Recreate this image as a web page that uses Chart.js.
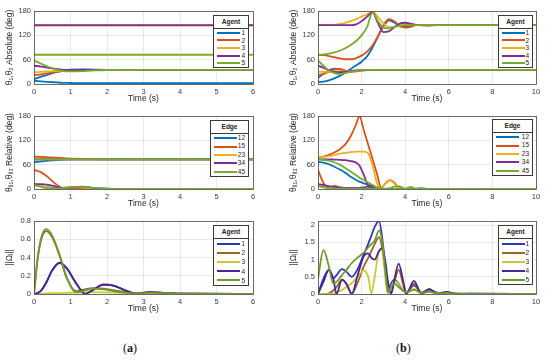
<!DOCTYPE html>
<html><head><meta charset="utf-8">
<script src="https://cdn.jsdelivr.net/npm/chart.js@4"></script>
<style>
html,body{margin:0;padding:0;background:#fff;width:550px;height:362px;overflow:hidden;position:relative;font-family:"Liberation Sans",Arial,sans-serif;}
canvas{position:absolute;}
.lg{position:absolute;background:#fff;border:1px solid #3a3a3a;box-sizing:border-box;font-size:6.5px;color:#222;}
.lg .tt{font-weight:bold;text-align:center;border-bottom:1px solid #3a3a3a;height:12px;line-height:12px;}
.lg .it{position:relative;}
.lg .ln{position:absolute;left:3px;width:23px;top:50%;border-top:2px solid;margin-top:-1px;}
.lg .lb{position:absolute;right:3px;top:0;}
.cap{position:absolute;font-family:"Liberation Serif","DejaVu Serif",serif;font-size:12px;color:#111;}
</style></head><body>
<canvas id="c1"></canvas><canvas id="c2"></canvas><canvas id="c3"></canvas>
<canvas id="c4"></canvas><canvas id="c5"></canvas><canvas id="c6"></canvas>
<div class="cap" style="left:123px;top:341px;">(<b>a</b>)</div>
<div class="cap" style="left:396px;top:341px;">(<b>b</b>)</div>
<script>
// ---------- DATA ----------
const agentLabels = ['1','2','3','4','5'];
const edgeLabels = ['12','15','23','34','45'];
const xTicksA = [0,1,2,3,4,5,6];
const xTicksB = [0,2,4,6,8,10];
const yTicksDeg = [0,60,120,180];
const yTicksOmA = [0,0.2,0.4,0.6,0.8];
const yTicksOmB = [0,0.5,1,1.5,2];

// (a) absolute
const absA_t = [0,0.2,0.4,0.6,0.8,1.0,1.3,1.6,2,3,6];
const absA_1_th1 = [12,18,24,29,33,35.5,36,35.5,35,35,35];
const absA_1_th2 = [8,6.5,5,4,3,2.5,2,2,2,2,2];
const absA_2_th1 = [22,24,27,30,32.5,34,35,35,35,35,35];
const absA_2_th2 = [145,145,145,145,145,145,145,145,145,145,145];
const absA_3_th1 = [29,30,31,32,33,34,34.5,35,35,35,35];
const absA_3_th2 = [72,72,72,72,72,72,72,72,72,72,72];
const absA_4_th1 = [45,43,40,37,35,34.5,34.5,35,35,35,35];
const absA_4_th2 = [144.5,144.5,144.5,144.5,144.5,144.5,144.5,144.5,144.5,144.5,144.5];
const absA_5_th1 = [58,50,42,36,32,31,31.5,33,34.5,35,35];
const absA_5_th2 = [72.5,72.5,72.5,72.5,72.5,72.5,72.5,72.5,72.5,72.5,72.5];

// (b) absolute
const absB_t = [0,0.25,0.5,0.75,1,1.25,1.5,1.75,2,2.25,2.5,2.75,3,3.25,3.5,3.75,4,4.25,4.5,5,5.5,6,7,10];
const absB_1_th1 = [15,25,34,38,36,33,32,33,34,35,35,35,35,35,35,35,35,35,35,35,35,35,35,35];
const absB_1_th2 = [5,6,9,14,20,28,37,46,55,68,90,117,142,157,152,142,141,144,146,145,145,145,145,145];
const absB_2_th1 = [22,25,30,36,37,33,30,31,33,34,35,35,35,35,35,35,35,35,35,35,35,35,35,35];
const absB_2_th2 = [72,71,69,66,63,61,61,64,70,80,95,118,145,160,155,143,139,141,145,146,145,145,145,145];
const absB_3_th1 = [30,30,30,31,31,31,32,33,34,35,35,35,35,35,35,35,35,35,35,35,35,35,35,35];
const absB_3_th2 = [145,145,145,146,148,151,155,160,166,172,178,165,150,140,141,144,146,146,145,145,145,145,145,145];
const absB_4_th1 = [45,40,34,30,29,30,32,33,34,35,35,35,35,35,35,35,35,35,35,35,35,35,35,35];
const absB_4_th2 = [145,145,145,145,145,145,145,147,155,166,177,150,128,130,140,149,151,149,146,144,145,145,145,145];
const absB_5_th1 = [58,45,33,27,25,27,30,32,34,35,35,35,35,35,35,35,35,35,35,35,35,35,35,35];
const absB_5_th2 = [72,73,75,78,82,88,96,106,120,140,176,155,139,137,141,144,145,145,145,145,145,145,145,145];

// (a) relative
const relA_t = [0,0.2,0.4,0.6,0.8,1.0,1.3,1.6,2,3,6];
const relA_12_hi = [66,68,70,71.5,72.5,73,73,73,73,73,73];
const relA_12_lo = [10,7,4,2,1,1,1,0.5,0,0,0];
const relA_15_hi = [80,79,78,77,76,75,74,73.5,73,73,73];
const relA_15_lo = [47,41,28,12,2,0.5,0.5,0,0,0,0];
const relA_23_hi = [73,73,73,73,73,73,73,73,73,73,73];
const relA_23_lo = [12,8,3,1,3,5,4,2,0.5,0,0];
const relA_34_hi = [73,73,73,73,73,73,73,73,73,73,73];
const relA_34_lo = [12,12,10,6,2,4,6,3,1,0,0];
const relA_45_hi = [73,73,73,73,73,73,73,73,73,73,73];
const relA_45_lo = [10,5,1,1,2,4,5,3,1,0,0];

// (b) relative
const relB_t = [0,0.25,0.5,0.75,1,1.25,1.5,1.75,1.9,2.1,2.3,2.5,2.7,2.9,3.1,3.3,3.5,3.7,4,4.25,4.5,4.75,5,6,10];
const relB_12_hi = [67,65,61,55,48,40,30,22,18,14,11,6,2,0,0,0,0,0,0,0,0,0,0,0,0];
const relB_12_lo = [10,8,5,2,1,1,0,0,0,0,0,0,0,0,0,0,0,0,0,0,0,0,0,0,0];
const relB_15_hi = [78,80,84,90,98,110,130,160,180,145,110,74,38,3,14,22,16,2,0,0,0,0,0,0,0];
const relB_15_lo = [47,15,1,8,3,1,0,0,0,0,0,0,0,0,0,0,0,0,0,0,0,0,0,0,0];
const relB_23_hi = [78,79,81,84,87,89,91,92,92,92,88,60,15,2,14,21,14,1,0,0,0,0,0,0,0];
const relB_23_lo = [10,5,3,6,4,2,1,1,1,1,1,1,1,1,0,0,0,0,0,0,0,0,0,0,0];
const relB_34_hi = [73,73,73,72.5,72,71,69,65,58,35,8,1,0,0,0,0,0,0,0,0,0,0,0,0,0];
const relB_34_lo = [12,10,7,5,4,3,3,3,3,4,6,5,3,1,0,0,0,0,0,0,0,0,0,0,0];
const relB_45_hi = [73,72,70,66,60,52,43,34,28,22,16,10,4,1,0,0,0,0,0,0,0,0,0,0,0];
const relB_45_lo = [8,4,2,1,1,1,1,1,1,1,1,1,1,1,1,2,6,7,1,5,1,3,0.5,0,0];

// (a) ||Omega||
const omA_t = [0,0.1,0.2,0.33,0.5,0.7,0.9,1.15,1.4,1.6,1.9,2.2,2.5,2.8,3.2,3.6,4,6];
const omA_1 = [0,0.01,0.04,0.12,0.26,0.34,0.28,0.12,0.01,0.04,0.1,0.09,0.04,0.005,0.02,0.01,0.003,0];
const omA_2 = [0,0.38,0.6,0.69,0.62,0.42,0.17,0.03,0.05,0.065,0.06,0.04,0.02,0.01,0.02,0.01,0.003,0];
const omA_3 = [0,0.002,0.004,0.006,0.008,0.01,0.012,0.015,0.018,0.02,0.018,0.015,0.01,0.006,0.004,0.002,0.001,0];
const omA_4 = [0,0.01,0.04,0.12,0.26,0.343,0.28,0.12,0,0.04,0.105,0.09,0.04,0.005,0.02,0.01,0.003,0];
const omA_5 = [0,0.4,0.62,0.71,0.64,0.43,0.18,0.02,0.04,0.06,0.05,0.03,0.015,0.005,0.015,0.01,0.003,0];

// (b) ||Omega||
const omB_t = [0,0.25,0.5,0.7,0.85,1.1,1.3,1.55,1.8,2.1,2.3,2.45,2.6,2.8,2.95,3.1,3.2,3.35,3.5,3.7,3.9,4.05,4.4,4.75,5.1,5.5,5.9,6.3,7,10];
const omB_1 = [0,0.45,0.7,0.45,0.55,0.72,0.65,0.5,0.7,1.15,1.45,1.7,1.95,2.12,1.6,0.7,0.05,0.3,0.42,0.3,0.1,0.05,0.25,0.05,0.12,0.03,0.05,0.02,0.01,0];
const omB_2 = [0,0,0.02,0.1,0.2,0.42,0.3,0.02,0.3,0.8,1.05,1.25,1.45,1.65,1.3,0.6,0.1,0.05,0.35,0.7,0.3,0.02,0.3,0.02,0.1,0.005,0.04,0.005,0.005,0];
const omB_3 = [0,0,0,0.01,0.05,0.12,0.2,0.32,0.5,0.68,0.5,0.02,0.5,1.25,1.3,0.4,0.02,0.2,0.38,0.3,0.15,0.05,0.15,0.05,0.06,0.02,0.02,0.01,0,0];
const omB_4 = [0,0.35,0.7,0.45,0,0.42,0.3,0,0.5,1.1,1.18,1.05,1,1.25,1.33,0.9,0.4,0,0.4,0.88,0.4,0,0.38,0,0.15,0,0.06,0,0.01,0];
const omB_5 = [0.45,1.27,0.8,0.3,0.35,0.55,0.7,0.9,1.05,1.2,1.35,1.45,1.55,1.85,1.5,0.6,0.05,0.2,0.3,0.2,0.1,0.05,0.12,0.03,0.06,0.02,0.03,0.01,0.005,0];

// ---------- STYLE ----------
const colA = ['#0072BD','#D95319','#EDB120','#7E2F8E','#77AC30'];
const colB = ['#3036B4','#96692A','#C9C93C','#4B2591','#6E9B2E'];

function pts(t, v){ return t.map((x,i)=>({x:x, y:v[i]})); }
function ds(t, v, c, k){
  return {data:pts(t,v), borderColor:c, borderWidth:1.8, pointRadius:0, fill:false,
          cubicInterpolationMode:'monotone', order:-k};
}
const boxPlugin = {id:'box', afterDraw(ch){
  const a = ch.chartArea, g = ch.ctx;
  g.save(); g.strokeStyle='#4d4d4d'; g.lineWidth=0.8;
  g.strokeRect(Math.round(a.left)+0.5, Math.round(a.top)+0.5, Math.round(a.right-a.left), Math.round(a.bottom-a.top));
  g.restore();
}};
const fmtNum = v => String(+Number(v).toFixed(2));

function panel(id, left, top, w, h, L, R, xMax, xTicks, yMax, yTicks, yTitle, datasets){
  const cv = document.getElementById(id);
  cv.style.left = left+'px'; cv.style.top = top+'px';
  cv.width = w; cv.height = h; cv.style.width = w+'px'; cv.style.height = h+'px';
  const tickFont = {family:'"Liberation Sans", Arial, sans-serif', size:7.5};
  new Chart(cv, {
    type:'line',
    data:{datasets:datasets},
    plugins:[boxPlugin],
    options:{
      responsive:false, animation:false, events:[],
      layout:{padding:{left:0, top:11, right: w-(R-left), bottom:0}},
      plugins:{legend:{display:false}, tooltip:{enabled:false}},
      scales:{
        x:{type:'linear', min:0, max:xMax,
           afterFit(s){ s.height = 20; },
           afterBuildTicks(s){ s.ticks = xTicks.map(v=>({value:v})); },
           grid:{color:'rgba(38,38,38,0.13)', drawTicks:false, lineWidth:0.8},
           border:{display:false},
           ticks:{font:tickFont, color:'#3a3a3a', padding:3, maxRotation:0, callback:fmtNum},
           title:{display:true, text:'Time (s)', font:{family:'"Liberation Sans", Arial, sans-serif', size:8.5}, color:'#262626', padding:{top:0,bottom:0}}},
        y:{type:'linear', min:0, max:yMax,
           afterFit(s){ s.width = L-left; },
           afterBuildTicks(s){ s.ticks = yTicks.map(v=>({value:v})); },
           grid:{color:'rgba(38,38,38,0.13)', drawTicks:false, lineWidth:0.8},
           border:{display:false},
           ticks:{font:tickFont, color:'#3a3a3a', padding:3, callback:fmtNum},
           title:{display:true, text:yTitle, font:{family:'"Liberation Sans", "DejaVu Sans", Arial, sans-serif', size:8.5}, color:'#262626', padding:{top:5,bottom:0}}}
      }
    }
  });
}

function legend(left, top, w, h, title, labels, cols){
  const d = document.createElement('div');
  d.className='lg';
  d.style.left=left+'px'; d.style.top=top+'px'; d.style.width=w+'px'; d.style.height=h+'px';
  const ih = (h-2-13)/labels.length;
  let s = '<div class="tt">'+title+'</div>';
  labels.forEach((lb,i)=>{
    s += '<div class="it" style="height:'+ih+'px;line-height:'+ih+'px;"><div class="ln" style="border-color:'+cols[i]+'"></div><div class="lb">'+lb+'</div></div>';
  });
  d.innerHTML = s;
  document.body.appendChild(d);
}

// ---------- BUILD ----------
function pairSets(t, arrs, cols){
  const out = [];
  arrs.forEach((pair,i)=>{ out.push(ds(t,pair[0],cols[i],2*i)); out.push(ds(t,pair[1],cols[i],2*i+1)); });
  return out;
}
const absA_sets = pairSets(absA_t, [[absA_1_th1,absA_1_th2],[absA_2_th1,absA_2_th2],[absA_3_th1,absA_3_th2],[absA_4_th1,absA_4_th2],[absA_5_th1,absA_5_th2]], colA);
const absB_sets = pairSets(absB_t, [[absB_1_th1,absB_1_th2],[absB_2_th1,absB_2_th2],[absB_3_th1,absB_3_th2],[absB_4_th1,absB_4_th2],[absB_5_th1,absB_5_th2]], colA);
const relA_sets = pairSets(relA_t, [[relA_12_hi,relA_12_lo],[relA_15_hi,relA_15_lo],[relA_23_hi,relA_23_lo],[relA_34_hi,relA_34_lo],[relA_45_hi,relA_45_lo]], colA);
const relB_sets = pairSets(relB_t, [[relB_12_hi,relB_12_lo],[relB_15_hi,relB_15_lo],[relB_23_hi,relB_23_lo],[relB_34_hi,relB_34_lo],[relB_45_hi,relB_45_lo]], colA);
const omA_sets = [omA_1,omA_2,omA_3,omA_4,omA_5].map((v,i)=>ds(omA_t,v,colB[i],i));
const omB_sets = [omB_1,omB_2,omB_3,omB_4,omB_5].map((v,i)=>ds(omB_t,v,colB[i],i));

const tAbs = 'θ\u2081,θ\u2082 Absolute (deg)';
const tRel = 'θ\u1D62\u2C7C\u2081,θ\u1D62\u2C7C\u2082 Relative (deg)';
const tOm = '||Ω\u1D62||';

panel('c1', 0, 0, 270, 104, 34, 253, 6, xTicksA, 180, yTicksDeg, tAbs, absA_sets);
panel('c2', 284, 0, 266, 104, 318, 536, 10, xTicksB, 180, yTicksDeg, tAbs, absB_sets);
panel('c3', 0, 105, 270, 104, 34, 253, 6, xTicksA, 180, yTicksDeg, tRel, relA_sets);
panel('c4', 284, 105, 266, 104, 318, 536, 10, xTicksB, 180, yTicksDeg, tRel, relB_sets);
panel('c5', 0, 210, 270, 104, 34, 253, 6, xTicksA, 0.8, yTicksOmA, tOm, omA_sets);
panel('c6', 284, 210, 266, 104, 318, 536, 10, xTicksB, 2.12, yTicksOmB, tOm, omB_sets);

legend(213, 15, 36, 53, 'Agent', agentLabels, colA);
legend(498, 15, 35, 53, 'Agent', agentLabels, colA);
legend(210, 120, 39, 57, 'Edge', edgeLabels, colA);
legend(492, 119, 41, 57, 'Edge', edgeLabels, colA);
legend(213, 225, 36, 61, 'Agent', agentLabels, colB);
legend(498, 225, 35, 60, 'Agent', agentLabels, colB);
</script>
</body></html>
